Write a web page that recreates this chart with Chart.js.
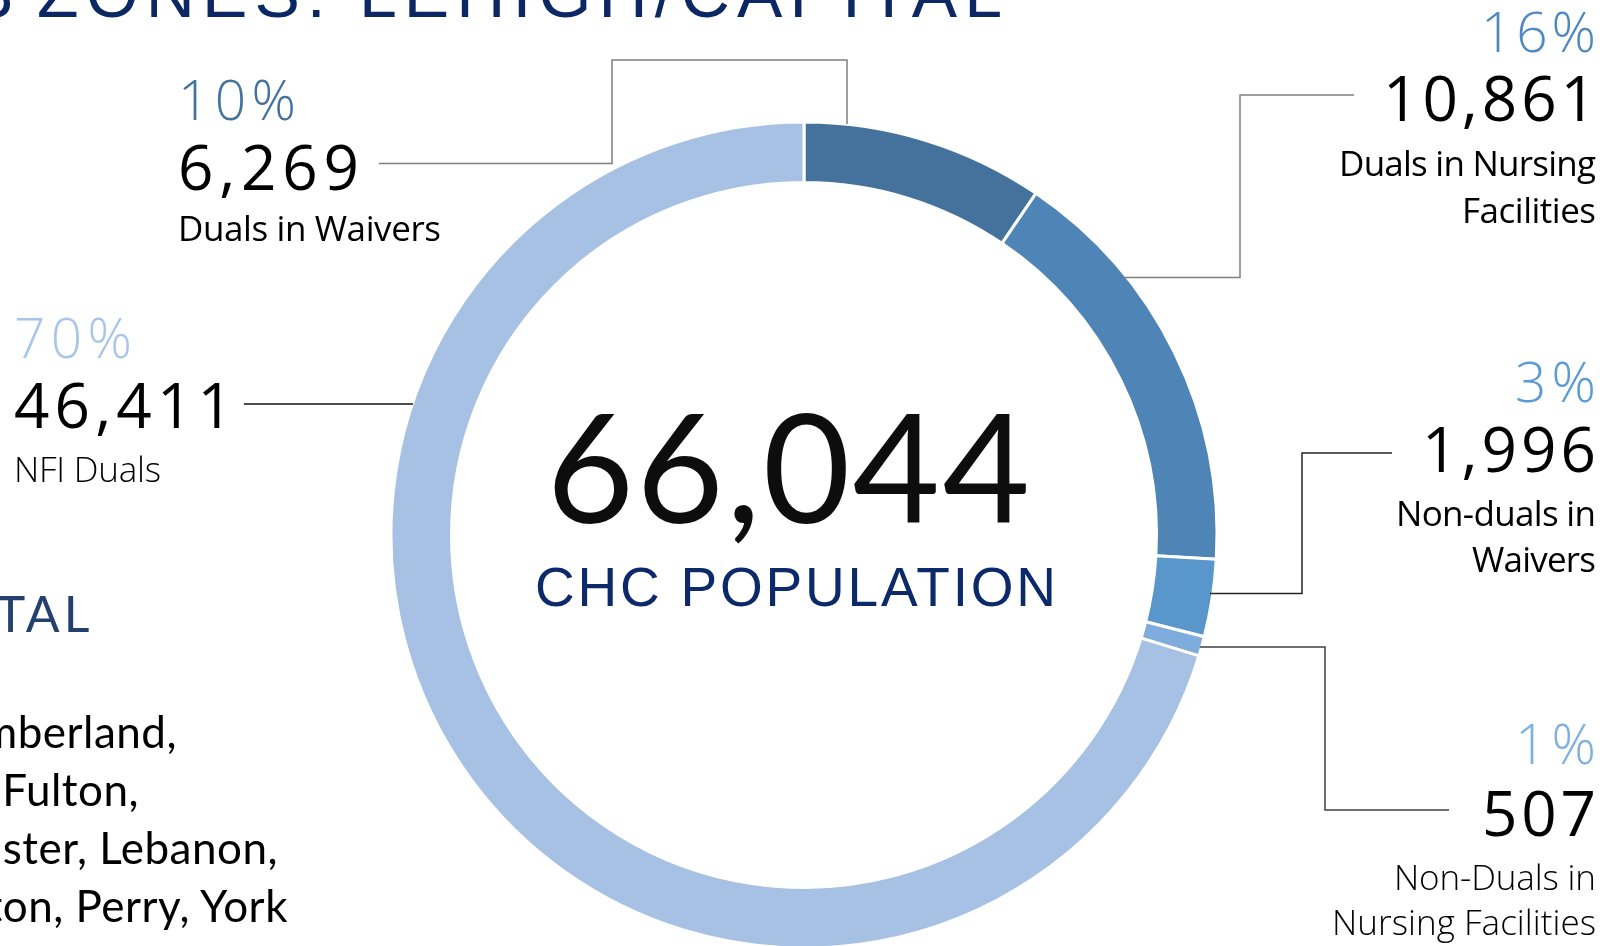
<!DOCTYPE html>
<html>
<head>
<meta charset="utf-8">
<title>CHC population</title>
<script src="https://cdn.jsdelivr.net/npm/chart.js@4.4.1/dist/chart.umd.min.js"></script>
<style>
html, body { margin: 0; padding: 0; background: #fff; overflow: hidden; width: 1623px; height: 946px; }
#wrap { position: relative; width: 1623px; height: 946px; }
#donut, #notes { position: absolute; left: 0; top: 0; }
</style>
</head>
<body>
<div id="wrap">
  <canvas id="donut" width="1623" height="946"></canvas>
  <svg id="notes" width="1623" height="946" xmlns="http://www.w3.org/2000/svg"></svg>
</div>
<script>
// data, clockwise from 12 o'clock
const categories = ['Duals in Waivers', 'Duals in Nursing Facilities', 'Non-duals in Waivers', 'Non-Duals in Nursing Facilities', 'NFI Duals']
const counts = [6269, 10861, 1996, 507, 46411]
const percentLabels = ['10%', '16%', '3%', '1%', '70%']
const nameLines = [['Duals in Waivers'], ['Duals in Nursing', 'Facilities'], ['Non-duals in', 'Waivers'], ['Non-Duals in', 'Nursing Facilities'], ['NFI Duals']]
const centerCaption = 'CHC POPULATION'
const titleText = 'ZONES: LEHIGH/CAPITAL'
const sideHeading = 'LEHIGH/CAPITAL'
const countyLines = ['Adams, Berks, Cumberland,', 'Dauphin, Franklin, Fulton,', 'Huntingdon, Juniata, Lancaster, Lebanon,', 'Lehigh, Mifflin, Northampton, Perry, York']

const segmentColors = ['#44729d', '#4e84b6', '#5896cc', '#7eacdc', '#a6c1e3']
const percentColors = ['#44729e', '#4f89c1', '#5b9bd5', '#7fb0e1', '#a9c5ea']

// where each callout sits: [baseline, width] pairs
const calloutLayout = [
    { anchor: 'start', x: 178, pct: [120, 118], num: [189.5, 181], lines: [[241, 263]], weight: 400,
      leader: [[379, 163.5], [612, 163.5], [612, 60], [847, 60], [847, 124]], stroke: '#7f7f7f' },
    { anchor: 'end', x: 1596, pct: [51.5, 115], num: [121, 213], lines: [[176, 257], [222.5, 134]], weight: 400,
      leader: [[1354, 95], [1240, 95], [1240, 277.5], [1123, 277.5]], stroke: '#808080' },
    { anchor: 'end', x: 1596, pct: [401.5, 81], num: [472, 174], lines: [[525.5, 200], [572, 124]], weight: 400,
      leader: [[1392, 453], [1302, 453], [1302, 593.5], [1210, 593.5]], stroke: '#262626' },
    { anchor: 'end', x: 1596, pct: [763.5, 81], num: [836, 114], lines: [[890, 202], [934.5, 264]], weight: 300,
      leader: [[1200, 647], [1325, 647], [1325, 810], [1449, 810]], stroke: '#404040' },
    { anchor: 'start', x: 14, pct: [358, 118], num: [427.5, 219], lines: [[482, 147]], weight: 300,
      leader: [[244, 404], [413, 404]], stroke: '#111111' }
]

const total = counts.reduce((a, b) => a + b, 0)

var ctxDonut = document.getElementById('donut').getContext('2d');
var chartDonut = new Chart(ctxDonut, {
    type: 'doughnut',
    data: {
        labels: categories,
        datasets: [{
            data: counts,
            backgroundColor: segmentColors,
            borderColor: '#ffffff',
            borderWidth: 3,
            hoverOffset: 0,
            clip: false
        }]
    },
    options: {
        responsive: false,
        animation: false,
        events: [],
        radius: 413,
        cutout: '85.35%',
        layout: { padding: { left: 391, right: 406, top: 124, bottom: 0 } },
        plugins: { legend: { display: false }, tooltip: { enabled: false } }
    }
});

// annotations
const svg = document.getElementById('notes')
const NS = 'http://www.w3.org/2000/svg'
function addText(str, x, y, o) {
    const t = document.createElementNS(NS, 'text')
    t.setAttribute('x', x)
    t.setAttribute('y', y)
    t.setAttribute('font-family', o.family || 'Open Sans')
    t.setAttribute('font-size', o.size)
    t.setAttribute('font-weight', o.weight || 400)
    t.setAttribute('fill', o.color || '#000')
    t.setAttribute('text-anchor', o.anchor || 'start')
    if (o.spacing) t.setAttribute('letter-spacing', o.spacing)
    if (o.len) {
        t.setAttribute('textLength', o.len)
        t.setAttribute('lengthAdjust', 'spacing')
    }
    t.textContent = str
    svg.appendChild(t)
}
function addLeader(pts, color) {
    const p = document.createElementNS(NS, 'polyline')
    p.setAttribute('points', pts.map(q => q.join(',')).join(' '))
    p.setAttribute('fill', 'none')
    p.setAttribute('stroke', color)
    p.setAttribute('stroke-width', 1.5)
    svg.appendChild(p)
}

calloutLayout.forEach((c, i) => {
    addLeader(c.leader, c.stroke)
    addText(percentLabels[i], c.x, c.pct[0], { size: 55, weight: 300, color: percentColors[i], anchor: c.anchor, len: c.pct[1] })
    addText(counts[i].toLocaleString('en-US'), c.x, c.num[0], { size: 62, weight: 400, anchor: c.anchor, len: c.num[1] })
    nameLines[i].forEach((line, j) => {
        addText(line, c.x, c.lines[j][0], { size: 35, weight: c.weight, anchor: c.anchor, len: c.lines[j][1] })
    })
})

// centre
addText(total.toLocaleString('en-US'), 546.5, 522.7, { family: 'Lato', size: 151, color: '#0d0d0d', len: 483.5 })
addText(centerCaption, 535, 605.5, { family: 'Liberation Sans', size: 55, color: '#0c2a6a', len: 521 })

// cropped page text around the chart
addText('3', 13, 17.3, { family: 'Liberation Sans', size: 68, color: '#0c2864', anchor: 'end' })
addText(titleText, 37, 17.3, { family: 'Liberation Sans', size: 68, color: '#0c2864', len: 965 })
addText(sideHeading, 93.3, 631.7, { family: 'Lato', size: 50, color: '#24406f', anchor: 'end', spacing: 4 })
const countyRight = [177, 139, 278, 288]
countyLines.forEach((line, k) => {
    addText(line, countyRight[k], 748 + k * 57.9, { family: 'Lato', size: 44, color: '#000', anchor: 'end', spacing: 0.5 })
})
</script>
</body>
</html>
